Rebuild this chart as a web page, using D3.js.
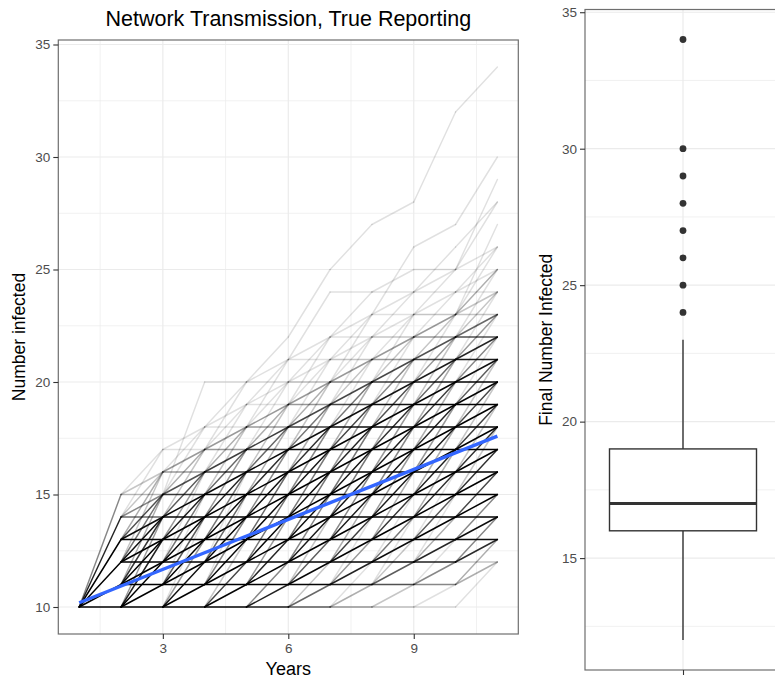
<!DOCTYPE html>
<html>
<head>
<meta charset="utf-8">
<script src="https://cdn.jsdelivr.net/npm/d3@7"></script>
<style>
  body { margin: 0; background: #ffffff; }
  svg { display: block; }
  text { font-family: "Liberation Sans", Arial, Helvetica, sans-serif; }
</style>
</head>
<body>
<svg id="chart" width="775" height="683"></svg>
<script>
// Simulated epidemics on a contact network, 1000 runs, 11 years each.
// Each row of a step: number infected at the start of the year, then how many
// runs rose by 0, 1, 2, 3, 4, 5 cases over that year.
const years = [1, 2, 3, 4, 5, 6, 7, 8, 9, 10, 11];

const step1 = [[10, 420, 330, 165, 65, 15, 5]];
const step2 = [
  [10, 190, 155, 55, 16, 4],
  [11, 150, 120, 45, 12, 3],
  [12, 75, 60, 22, 6, 2],
  [13, 30, 23, 9, 3],
  [14, 7, 5, 2, 1],
  [15, 2, 2, 1]
];
const step3 = [
  [10, 84, 80, 21, 4, 1],
  [11, 134, 128, 34, 8, 1],
  [12, 110, 105, 28, 6, 1],
  [13, 66, 64, 17, 4],
  [14, 30, 28, 8, 2],
  [15, 11, 9, 3, 1, 0, 1],
  [16, 4, 4, 1],
  [17, 1, 1]
];
const step4 = [
  [10, 38, 34, 10, 2],
  [11, 94, 88, 26, 5, 1],
  [12, 114, 106, 31, 7, 1],
  [13, 92, 86, 25, 6],
  [14, 58, 54, 15, 4],
  [15, 28, 26, 7, 2],
  [16, 11, 11, 3, 1],
  [17, 4, 4, 1, 1],
  [18, 1, 1, 1],
  [20, 1]
];
const step5 = [
  [10, 17, 16, 5],
  [11, 55, 54, 15, 4],
  [12, 91, 89, 26, 6],
  [13, 97, 95, 27, 7],
  [14, 77, 76, 22, 5],
  [15, 49, 49, 14, 3],
  [16, 25, 25, 7, 2],
  [17, 11, 11, 3, 1],
  [18, 4, 4, 1, 1],
  [19, 1, 1, 1],
  [20, 1, 1, 1]
];
const step6 = [
  [10, 8, 7, 2],
  [11, 31, 30, 8, 2],
  [12, 64, 63, 18, 5],
  [13, 86, 85, 24, 6],
  [14, 87, 85, 24, 6],
  [15, 68, 66, 19, 5],
  [16, 44, 43, 13, 3],
  [17, 24, 23, 6, 2],
  [18, 11, 10, 3, 1],
  [19, 4, 4, 1, 1],
  [20, 2, 1, 1],
  [21, 1, 1, 0, 1],
  [22, 0, 0, 0, 1]
];
const step7 = [
  [10, 4, 3, 1],
  [11, 17, 16, 4, 1],
  [12, 42, 40, 11, 3],
  [13, 69, 66, 17, 5],
  [14, 84, 81, 21, 6],
  [15, 80, 76, 20, 6],
  [16, 62, 59, 15, 4],
  [17, 40, 39, 10, 3],
  [18, 23, 22, 6, 1],
  [19, 10, 10, 2, 1],
  [20, 5, 4, 1, 1],
  [21, 2, 1, 1],
  [22, 1, 1, 1],
  [24, 1],
  [25, 0, 0, 1]
];
const step8 = [
  [10, 2, 2],
  [11, 9, 8, 2, 1],
  [12, 27, 25, 6, 1],
  [13, 51, 47, 12, 3],
  [14, 73, 68, 17, 4],
  [15, 81, 76, 19, 5],
  [16, 74, 69, 17, 4],
  [17, 56, 53, 13, 3],
  [18, 37, 35, 9, 2],
  [19, 21, 19, 5, 1],
  [20, 11, 10, 2, 1],
  [21, 4, 4, 1],
  [22, 2, 1, 1],
  [23, 1, 1, 0, 1],
  [24, 1, 1],
  [27, 0, 1]
];
const step9 = [
  [10, 1, 1],
  [11, 5, 5, 1],
  [12, 16, 15, 3, 1],
  [13, 36, 33, 8, 1],
  [14, 58, 53, 13, 3],
  [15, 75, 68, 16, 3],
  [16, 78, 71, 17, 4],
  [17, 68, 62, 15, 3],
  [18, 51, 47, 11, 3],
  [19, 34, 30, 7, 2],
  [20, 19, 18, 4, 1],
  [21, 10, 9, 2],
  [22, 4, 4, 1],
  [23, 2, 1, 1],
  [24, 1, 1, 1],
  [25, 1],
  [26, 0, 1],
  [28, 0, 0, 0, 0, 1]
];
const step10 = [
  [10, 0, 0, 1],
  [11, 0, 3, 3],
  [12, 2, 14, 5],
  [13, 23, 24, 5],
  [14, 46, 38, 10],
  [15, 67, 55, 13, 2],
  [16, 90, 55, 13, 2],
  [17, 97, 48, 11, 2],
  [18, 77, 44, 10, 2],
  [19, 58, 33, 8, 1],
  [20, 35, 22, 5, 1],
  [21, 18, 15, 4, 1],
  [22, 9, 7, 2, 1],
  [23, 2, 2, 3, 1, 1],
  [24, 1, 1, 1],
  [25, 0, 1, 0, 1, 1],
  [26, 0, 0, 1],
  [27, 0, 0, 0, 1],
  [32, 0, 0, 1]
];
const steps = [step1, step2, step3, step4, step5, step6, step7, step8, step9, step10];

const yearTicks = [3, 6, 9];
const yearMinor = [1.5, 4.5, 7.5, 10.5];
const infectedTicks = [10, 15, 20, 25, 30, 35];
const infectedMinor = [12.5, 17.5, 22.5, 27.5, 32.5];
const finalTicks = [15, 20, 25, 30, 35];
const finalMinor = [12.5, 17.5, 22.5, 27.5, 32.5];

const titleText = "Network Transmission, True Reporting";
const xTitle = "Years";
const yTitle = "Number infected";
const boxTitle = "Final Number Infected";

// ---- derived quantities ----------------------------------------------------
const lineAlpha = 0.12;
const edges = [];
const occupancy = [];           // [year, value, runs]
steps.forEach((rows, k) => {
  const t = years[k];
  rows.forEach(r => {
    const from = r[0];
    let total = 0;
    for (let j = 1; j < r.length; j++) {
      const n = r[j];
      if (n > 0) edges.push({ t0: t, t1: t + 1, v0: from, v1: from + (j - 1), n });
      total += n;
    }
    occupancy.push([t, from, total]);
  });
});
// arrivals in the last year give the final number infected for every run
const finalCounts = d3.rollup(edges.filter(e => e.t1 === years[years.length - 1]), v => d3.sum(v, e => e.n), e => e.v1);
finalCounts.forEach((n, v) => occupancy.push([years[years.length - 1], v, n]));
const finalValues = [];
Array.from(finalCounts.keys()).sort(d3.ascending).forEach(v => {
  for (let i = 0; i < finalCounts.get(v); i++) finalValues.push(v);
});

// least-squares trend over every run and year
const W = d3.sum(occupancy, d => d[2]);
const mx = d3.sum(occupancy, d => d[0] * d[2]) / W;
const my = d3.sum(occupancy, d => d[1] * d[2]) / W;
const slope = d3.sum(occupancy, d => (d[0] - mx) * (d[1] - my) * d[2]) /
              d3.sum(occupancy, d => (d[0] - mx) * (d[0] - mx) * d[2]);
const intercept = my - slope * mx;

// box statistics (R type-7 quantiles, 1.5 IQR whiskers)
const q1 = d3.quantile(finalValues, 0.25);
const med = d3.quantile(finalValues, 0.5);
const q3 = d3.quantile(finalValues, 0.75);
const iqr = q3 - q1;
const inside = finalValues.filter(v => v >= q1 - 1.5 * iqr && v <= q3 + 1.5 * iqr);
const whiskLo = d3.min(inside), whiskHi = d3.max(inside);
const outliers = Array.from(new Set(finalValues.filter(v => v < q1 - 1.5 * iqr || v > q3 + 1.5 * iqr)));

// ---- drawing ---------------------------------------------------------------
const svg = d3.select("#chart");
const gridCol = "#ebebeb", borderCol = "#333333", frameCol = "#6e6e6e", tickTextCol = "#4d4d4d";

function pad(ext) { const r = ext[1] - ext[0]; return [ext[0] - 0.05 * r, ext[1] + 0.05 * r]; }

// left panel
const P = { left: 58.3, right: 518.3, top: 40, bottom: 634 };
const x = d3.scaleLinear().domain(pad(d3.extent(years))).range([P.left, P.right]);
const allVals = edges.flatMap(e => [e.v0, e.v1]);
const y = d3.scaleLinear().domain(pad(d3.extent(allVals))).range([P.bottom, P.top]);

const gL = svg.append("g");
gL.append("rect").attr("x", P.left).attr("y", P.top).attr("width", P.right - P.left)
  .attr("height", P.bottom - P.top).attr("fill", "#ffffff");

gL.selectAll(".hmin").data(infectedMinor).join("line")
  .attr("x1", P.left).attr("x2", P.right).attr("y1", d => y(d)).attr("y2", d => y(d))
  .attr("stroke", gridCol).attr("stroke-width", 0.7);
gL.selectAll(".vmin").data(yearMinor).join("line")
  .attr("y1", P.top).attr("y2", P.bottom).attr("x1", d => x(d)).attr("x2", d => x(d))
  .attr("stroke", gridCol).attr("stroke-width", 0.7);
gL.selectAll(".hmaj").data(infectedTicks).join("line")
  .attr("x1", P.left).attr("x2", P.right).attr("y1", d => y(d)).attr("y2", d => y(d))
  .attr("stroke", gridCol).attr("stroke-width", 1.2);
gL.selectAll(".vmaj").data(yearTicks).join("line")
  .attr("y1", P.top).attr("y2", P.bottom).attr("x1", d => x(d)).attr("x2", d => x(d))
  .attr("stroke", gridCol).attr("stroke-width", 1.2);

// every yearly step of every run, stacked with transparency
gL.append("g").selectAll("line").data(edges).join("line")
  .attr("x1", d => x(d.t0)).attr("y1", d => y(d.v0))
  .attr("x2", d => x(d.t1)).attr("y2", d => y(d.v1))
  .attr("stroke", "#000000")
  .attr("stroke-width", 1.45)
  .attr("stroke-linecap", "round")
  .attr("stroke-opacity", d => 1 - Math.pow(1 - lineAlpha, d.n));

// trend line
const t0 = years[0], t1 = years[years.length - 1];
gL.append("line")
  .attr("x1", x(t0)).attr("y1", y(intercept + slope * t0))
  .attr("x2", x(t1)).attr("y2", y(intercept + slope * t1))
  .attr("stroke", "#3366ff").attr("stroke-width", 3.4).attr("stroke-linecap", "butt");

gL.append("rect").attr("x", P.left).attr("y", P.top).attr("width", P.right - P.left)
  .attr("height", P.bottom - P.top).attr("fill", "none")
  .attr("stroke", frameCol).attr("stroke-width", 1.2);

const axL = gL.append("g").attr("transform", `translate(${P.left},0)`)
  .call(d3.axisLeft(y).tickValues(infectedTicks).tickSize(5).tickPadding(3));
const axB = gL.append("g").attr("transform", `translate(0,${P.bottom})`)
  .call(d3.axisBottom(x).tickValues(yearTicks).tickSize(5).tickPadding(4));
[axL, axB].forEach(a => {
  a.select(".domain").remove();
  a.selectAll(".tick line").attr("stroke", borderCol).attr("stroke-width", 1.1);
  a.selectAll(".tick text").attr("fill", tickTextCol).style("font-size", "13.5px")
    .style("font-family", "'Liberation Sans', Arial, sans-serif");
});

svg.append("text").attr("x", (P.left + P.right) / 2).attr("y", 26)
  .attr("text-anchor", "middle").style("font-size", "21.5px").attr("fill", "#000")
  .text(titleText);
svg.append("text").attr("x", (P.left + P.right) / 2).attr("y", 675)
  .attr("text-anchor", "middle").style("font-size", "18px").attr("fill", "#000")
  .text(xTitle);
svg.append("text").attr("transform", `translate(25,${(P.top + P.bottom) / 2}) rotate(-90)`)
  .attr("text-anchor", "middle").style("font-size", "17.5px").attr("fill", "#000")
  .text(yTitle);

// right panel: distribution of the final count
const R = { left: 585, right: 781, top: 9.5, bottom: 670 };
const xb = d3.scaleLinear().domain([0.4, 1.6]).range([R.left, R.right]);
const yb = d3.scaleLinear().domain(pad(d3.extent(finalValues))).range([R.bottom, R.top]);

const gR = svg.append("g");
gR.selectAll(".hmin").data(finalMinor).join("line")
  .attr("x1", R.left).attr("x2", R.right).attr("y1", d => yb(d)).attr("y2", d => yb(d))
  .attr("stroke", gridCol).attr("stroke-width", 0.7);
gR.selectAll(".hmaj").data(finalTicks).join("line")
  .attr("x1", R.left).attr("x2", R.right).attr("y1", d => yb(d)).attr("y2", d => yb(d))
  .attr("stroke", gridCol).attr("stroke-width", 1.2);
gR.append("line").attr("x1", xb(1)).attr("x2", xb(1)).attr("y1", R.top).attr("y2", R.bottom)
  .attr("stroke", gridCol).attr("stroke-width", 1.2);

const boxW = 0.9, boxCol = "#333333";
gR.append("line").attr("x1", xb(1)).attr("x2", xb(1)).attr("y1", yb(q3)).attr("y2", yb(whiskHi))
  .attr("stroke", boxCol).attr("stroke-width", 1.4);
gR.append("line").attr("x1", xb(1)).attr("x2", xb(1)).attr("y1", yb(q1)).attr("y2", yb(whiskLo))
  .attr("stroke", boxCol).attr("stroke-width", 1.4);
gR.append("rect").attr("x", xb(1 - boxW / 2)).attr("width", xb(1 + boxW / 2) - xb(1 - boxW / 2))
  .attr("y", yb(q3)).attr("height", yb(q1) - yb(q3))
  .attr("fill", "#ffffff").attr("stroke", boxCol).attr("stroke-width", 1.4);
gR.append("line").attr("x1", xb(1 - boxW / 2)).attr("x2", xb(1 + boxW / 2))
  .attr("y1", yb(med)).attr("y2", yb(med)).attr("stroke", boxCol).attr("stroke-width", 2.8);
gR.selectAll("circle").data(outliers).join("circle")
  .attr("cx", xb(1)).attr("cy", d => yb(d)).attr("r", 3.4).attr("fill", boxCol);

gR.append("rect").attr("x", R.left).attr("y", R.top).attr("width", R.right - R.left)
  .attr("height", R.bottom - R.top).attr("fill", "none")
  .attr("stroke", frameCol).attr("stroke-width", 1.2);

const axR = gR.append("g").attr("transform", `translate(${R.left},0)`)
  .call(d3.axisLeft(yb).tickValues(finalTicks).tickSize(5).tickPadding(3));
const axRB = gR.append("g").attr("transform", `translate(0,${R.bottom})`)
  .call(d3.axisBottom(xb).tickValues([1]).tickFormat(() => "").tickSize(5));
[axR, axRB].forEach(a => {
  a.select(".domain").remove();
  a.selectAll(".tick line").attr("stroke", borderCol).attr("stroke-width", 1.1);
  a.selectAll(".tick text").attr("fill", tickTextCol).style("font-size", "13.5px")
    .style("font-family", "'Liberation Sans', Arial, sans-serif");
});
svg.append("text").attr("transform", `translate(552,${(R.top + R.bottom) / 2}) rotate(-90)`)
  .attr("text-anchor", "middle").style("font-size", "17.5px").attr("fill", "#000")
  .text(boxTitle);
</script>
</body>
</html>
